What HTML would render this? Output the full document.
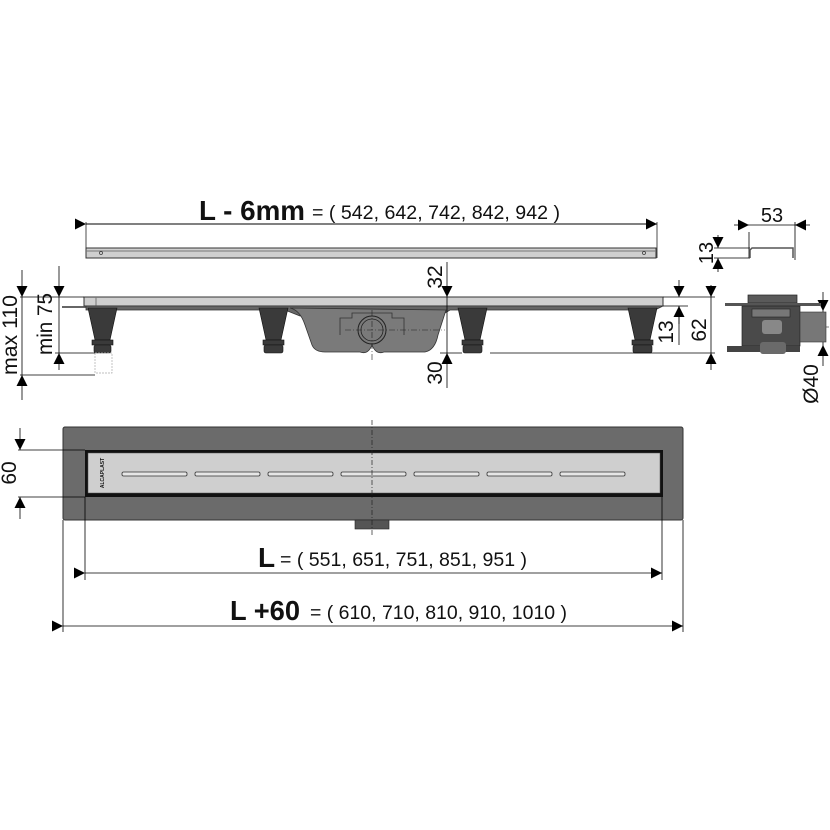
<!DOCTYPE html>
<html><head><meta charset="utf-8"><style>
html,body{margin:0;padding:0;background:#fff}
svg{display:block}
text{font-family:"Liberation Sans",sans-serif;fill:#111}
</style></head><body>
<svg width="830" height="830" viewBox="0 0 830 830" xmlns="http://www.w3.org/2000/svg">
<defs>
<marker id="a" viewBox="0 0 10 10" refX="10" refY="5" markerWidth="15" markerHeight="11" markerUnits="userSpaceOnUse" orient="auto"><path d="M0,0L10,5L0,10z" fill="#000"/></marker>
</defs>
<g stroke="#000" stroke-width="1" fill="none">
<line x1="86" y1="224" x2="657" y2="224" marker-start="url(#a)" marker-end="url(#a)"/>
<line x1="86" y1="222" x2="86" y2="258" stroke-width="0.7"/>
<line x1="657" y1="222" x2="657" y2="258" stroke-width="0.7"/>
</g>
<rect x="86" y="248" width="570" height="10" fill="#cfcfcf" stroke="#333" stroke-width="1"/>
<line x1="86" y1="251" x2="656" y2="251" stroke="#777" stroke-width="1"/>
<circle cx="101" cy="253" r="1.5" fill="none" stroke="#333" stroke-width="0.7"/>
<circle cx="644" cy="253" r="1.5" fill="none" stroke="#333" stroke-width="0.7"/>
<text x="199" y="220" font-size="28" font-weight="bold" textLength="106" lengthAdjust="spacingAndGlyphs">L - 6mm</text>
<text x="312" y="219" font-size="19" textLength="248" lengthAdjust="spacingAndGlyphs">= ( 542, 642, 742, 842, 942 )</text>

<g stroke="#000" stroke-width="0.8" fill="none">
<line x1="734" y1="225" x2="749" y2="225" marker-end="url(#a)"/>
<line x1="810" y1="225" x2="795" y2="225" marker-end="url(#a)"/>
<line x1="749" y1="225" x2="795" y2="225"/>
<line x1="749" y1="232" x2="749" y2="258"/>
<line x1="795" y1="222" x2="795" y2="260"/>
<line x1="714" y1="248" x2="750" y2="248"/>
<line x1="714" y1="258" x2="750" y2="258"/>
<line x1="718" y1="235" x2="718" y2="248" marker-end="url(#a)"/>
<line x1="718" y1="272" x2="718" y2="258" marker-end="url(#a)"/>
<path d="M750,258 V250 L752,248 H793 V258" stroke="#555" stroke-width="1.5"/>
</g>
<text transform="translate(713,253) rotate(-90)" font-size="20" text-anchor="middle">13</text>
<text x="772" y="222" font-size="20" text-anchor="middle">53</text>

<rect x="62" y="306" width="25" height="2" fill="#666"/>
<rect x="84" y="297" width="579" height="9" fill="#cfcfcf" stroke="#333"/>
<line x1="96" y1="297" x2="96" y2="306" stroke="#777"/>
<path d="M86,306 H663 L655,310 H450 L440,316 H300 L285,310 H86 Z" fill="#666" stroke="#333" stroke-width="0.8"/>
<path d="M290,308 Q300,310 305,325 L312,345 Q315,352 325,352 H360 Q368,355 372,345 Q376,355 384,352 H425 Q435,350 438,335 L446,310 Z" fill="#7a7a7a" stroke="#333" stroke-width="0.8"/>
<path d="M340,335 V318 H352 V313 H392 V318 H404 V335" fill="none" stroke="#333" stroke-width="0.8"/>
<circle cx="372" cy="330" r="14" fill="#7a7a7a" stroke="#222" stroke-width="1"/>
<circle cx="372" cy="330" r="11" fill="none" stroke="#222" stroke-width="0.8"/>
<line x1="345" y1="330" x2="445" y2="330" stroke="#222" stroke-width="0.6" stroke-dasharray="6,2,1,2"/>
<line x1="372" y1="310" x2="372" y2="360" stroke="#222" stroke-width="0.6" stroke-dasharray="6,2,1,2"/>
<g fill="#3a3a3a" stroke="#111" stroke-width="0.6">
<path d="M88,308 H117 L110,340 H95 Z"/><rect x="92" y="340" width="21" height="5"/><rect x="94" y="345" width="17" height="8" rx="2"/>
<path d="M259,308 H288 L281,340 H266 Z"/><rect x="263" y="340" width="21" height="5"/><rect x="264" y="345" width="19" height="8" rx="2"/>
<path d="M458,308 H487 L480,340 H465 Z"/><rect x="462" y="340" width="21" height="5"/><rect x="463" y="345" width="19" height="8" rx="2"/>
<path d="M628,308 H657 L650,340 H635 Z"/><rect x="632" y="340" width="21" height="5"/><rect x="633" y="345" width="19" height="8" rx="2"/>
</g>
<rect x="95" y="353" width="17" height="20" fill="none" stroke="#aaa" stroke-width="0.7" stroke-dasharray="2,1"/>
<g stroke="#000" stroke-width="0.8" fill="none">
<line x1="20" y1="297" x2="84" y2="297"/>
<line x1="20" y1="375" x2="95" y2="375"/>
<line x1="55" y1="353" x2="95" y2="353"/>
<line x1="22" y1="270" x2="22" y2="297" marker-end="url(#a)"/>
<line x1="22" y1="297" x2="22" y2="375"/>
<line x1="22" y1="400" x2="22" y2="375" marker-end="url(#a)"/>
<line x1="59" y1="266" x2="59" y2="297" marker-end="url(#a)"/>
<line x1="59" y1="297" x2="59" y2="353"/>
<line x1="59" y1="370" x2="59" y2="353" marker-end="url(#a)"/>
<line x1="447" y1="262" x2="447" y2="297" marker-end="url(#a)"/>
<line x1="447" y1="297" x2="447" y2="353"/>
<line x1="447" y1="388" x2="447" y2="353" marker-end="url(#a)"/>
<line x1="440" y1="353" x2="462" y2="353"/>
<line x1="490" y1="353" x2="715" y2="353"/>
<line x1="663" y1="297" x2="715" y2="297"/>
<line x1="663" y1="306" x2="688" y2="306"/>
<line x1="679" y1="280" x2="679" y2="297" marker-end="url(#a)"/>
<line x1="679" y1="324" x2="679" y2="306" marker-end="url(#a)"/>
<line x1="679" y1="306" x2="679" y2="345"/>
<line x1="711" y1="285" x2="711" y2="297" marker-end="url(#a)"/>
<line x1="711" y1="297" x2="711" y2="353"/>
<line x1="711" y1="370" x2="711" y2="353" marker-end="url(#a)"/>
<line x1="823" y1="292" x2="823" y2="311" marker-end="url(#a)"/>
<line x1="823" y1="311" x2="823" y2="345"/>
<line x1="823" y1="366" x2="823" y2="345" marker-end="url(#a)"/>
<line x1="804" y1="327" x2="830" y2="327" stroke-dasharray="5,2,1,2" stroke-width="0.6"/>
</g>
<text transform="translate(17,335) rotate(-90)" font-size="21" text-anchor="middle" textLength="80" lengthAdjust="spacingAndGlyphs">max 110</text>
<text transform="translate(52,324) rotate(-90)" font-size="21" text-anchor="middle" textLength="62" lengthAdjust="spacingAndGlyphs">min 75</text>
<text transform="translate(442,277) rotate(-90)" font-size="21" text-anchor="middle">32</text>
<text transform="translate(442,373) rotate(-90)" font-size="21" text-anchor="middle">30</text>
<text transform="translate(673,332) rotate(-90)" font-size="21" text-anchor="middle">13</text>
<text transform="translate(706,330) rotate(-90)" font-size="21" text-anchor="middle">62</text>
<text transform="translate(818,384) rotate(-90)" font-size="21" text-anchor="middle">Ø40</text>

<rect x="748" y="295" width="49" height="8" fill="#5a5a5a" stroke="#222" stroke-width="0.7"/>
<rect x="725" y="303" width="96" height="3" fill="#555"/>
<rect x="742" y="306" width="58" height="40" fill="#4a4a4a" stroke="#222" stroke-width="0.7"/>
<rect x="752" y="309" width="38" height="8" fill="#777" stroke="#222" stroke-width="0.6"/>
<rect x="762" y="320" width="20" height="14" rx="3" fill="#888"/>
<rect x="800" y="312" width="26" height="30" fill="#777" stroke="#333" stroke-width="0.6"/>
<rect x="727" y="346" width="73" height="6" fill="#444"/>
<rect x="760" y="342" width="26" height="12" rx="3" fill="#6a6a6a"/>

<rect x="63" y="427" width="620" height="93" rx="2" fill="#6b6b6b" stroke="#333"/>
<rect x="85" y="450" width="578" height="47" fill="#111"/>
<rect x="88" y="453" width="572" height="40" fill="#cfcfcf" stroke="#555" stroke-width="0.5"/>
<text transform="translate(104,473) rotate(-90)" font-size="5" font-weight="bold" text-anchor="middle">ALCAPLAST</text>
<g fill="#e6e6e6" stroke="#333" stroke-width="0.8">
<rect x="122" y="472" width="65" height="4" rx="1.5"/>
<rect x="195" y="472" width="65" height="4" rx="1.5"/>
<rect x="268" y="472" width="65" height="4" rx="1.5"/>
<rect x="341" y="472" width="65" height="4" rx="1.5"/>
<rect x="414" y="472" width="65" height="4" rx="1.5"/>
<rect x="487" y="472" width="65" height="4" rx="1.5"/>
<rect x="560" y="472" width="65" height="4" rx="1.5"/>
</g>
<rect x="355" y="520" width="34" height="9" fill="#555" stroke="#222" stroke-width="0.6"/>
<line x1="372" y1="420" x2="372" y2="535" stroke="#222" stroke-width="0.7" stroke-dasharray="5,2,1,2"/>
<g stroke="#000" stroke-width="0.8" fill="none">
<line x1="18" y1="450" x2="85" y2="450"/>
<line x1="18" y1="497" x2="85" y2="497"/>
<line x1="20" y1="428" x2="20" y2="450" marker-end="url(#a)"/>
<line x1="20" y1="519" x2="20" y2="497" marker-end="url(#a)"/>
<line x1="85" y1="497" x2="85" y2="580"/>
<line x1="662" y1="497" x2="662" y2="580"/>
<line x1="63" y1="520" x2="63" y2="632"/>
<line x1="683" y1="520" x2="683" y2="632"/>
<line x1="85" y1="573" x2="662" y2="573" marker-start="url(#a)" marker-end="url(#a)"/>
<line x1="63" y1="626" x2="683" y2="626" marker-start="url(#a)" marker-end="url(#a)"/>
</g>
<text transform="translate(16,473) rotate(-90)" font-size="21" text-anchor="middle">60</text>
<text x="258" y="567" font-size="28" font-weight="bold">L</text>
<text x="280" y="566" font-size="19" textLength="247" lengthAdjust="spacingAndGlyphs">= ( 551, 651, 751, 851, 951 )</text>
<text x="230" y="620" font-size="28" font-weight="bold" textLength="70" lengthAdjust="spacingAndGlyphs">L +60</text>
<text x="310" y="619" font-size="19" textLength="257" lengthAdjust="spacingAndGlyphs">= ( 610, 710, 810, 910, 1010 )</text>
</svg>
</body></html>
